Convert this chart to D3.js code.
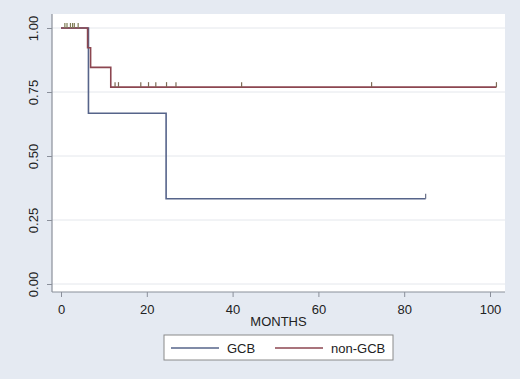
<!DOCTYPE html>
<html>
<head>
<meta charset="utf-8">
<script src="https://cdn.jsdelivr.net/npm/d3@7"></script>
<style>
  html, body { margin: 0; padding: 0; background: #e5eaf2; }
  svg { display: block; font-family: "Liberation Sans", Arial, sans-serif; }
</style>
</head>
<body>
<svg id="chart" width="520" height="379"></svg>
<script>
// ---- data ----
const seriesNames = ["GCB", "non-GCB"];
const gcbTimes = [0, 6.4, 24.5, 85];
const gcbSurv  = [1, 0.667, 0.333, 0.333];
const nonTimes = [0, 6.2, 6.9, 11.6, 101.5];
const nonSurv  = [1, 0.923, 0.846, 0.769, 0.769];
const gcbCensor = [85];
const nonCensor = [12.6, 13.4, 18.6, 20.4, 22.1, 24.6, 26.8, 42.1, 72.4, 101.5];
const topCensor = [0.9, 1.4, 2.2, 2.7, 3.1, 4.0];
const xTicks = [0, 20, 40, 60, 80, 100];
const yTicks = [0, 0.25, 0.5, 0.75, 1];
const xLabel = "MONTHS";

// ---- layout ----
const svg = d3.select("#chart");
const W = 520, H = 379;
const plot = { left: 52, right: 505, top: 14, bottom: 292 };
const colors = { "GCB": "#56648a", "non-GCB": "#8c4650" };

svg.append("rect").attr("width", W).attr("height", H).attr("fill", "#e5eaf2");
svg.append("rect")
  .attr("x", plot.left).attr("y", plot.top)
  .attr("width", plot.right - plot.left).attr("height", plot.bottom - plot.top)
  .attr("fill", "#ffffff");

const x = d3.scaleLinear().domain([0, 100]).range([61, 490]);
const y = d3.scaleLinear().domain([0, 1]).range([284, 28]);

// grid
svg.append("g").selectAll("line").data(yTicks).join("line")
  .attr("x1", plot.left).attr("x2", plot.right)
  .attr("y1", d => y(d)).attr("y2", d => y(d))
  .attr("stroke", "#e4e7ec").attr("stroke-width", 1);

// axes
const axisColor = "#8a8f9a";
const yAxis = svg.append("g").attr("transform", `translate(${plot.left},0)`)
  .call(d3.axisLeft(y).tickValues(yTicks).tickSize(5).tickFormat(d3.format(".2f")));
yAxis.select(".domain").remove();
yAxis.selectAll(".tick line").attr("stroke", axisColor);
yAxis.selectAll(".tick text")
  .attr("x", null).attr("dy", null)
  .attr("transform", "translate(-14,0) rotate(-90)")
  .attr("text-anchor", "middle")
  .attr("font-size", 13).attr("fill", "#222");

const xAxis = svg.append("g").attr("transform", `translate(0,${plot.bottom})`)
  .call(d3.axisBottom(x).tickValues(xTicks).tickSize(5));
xAxis.select(".domain").remove();
xAxis.selectAll(".tick line").attr("stroke", axisColor);
xAxis.selectAll(".tick text").attr("y", 13).attr("font-size", 13).attr("fill", "#222");

svg.append("line").attr("x1", plot.left).attr("x2", plot.left)
  .attr("y1", plot.top).attr("y2", plot.bottom)
  .attr("stroke", axisColor).attr("stroke-width", 1.2);
svg.append("line").attr("x1", plot.left).attr("x2", plot.right)
  .attr("y1", plot.bottom).attr("y2", plot.bottom)
  .attr("stroke", axisColor).attr("stroke-width", 1.2);

svg.append("text").attr("x", (plot.left + plot.right) / 2).attr("y", 326)
  .attr("text-anchor", "middle").attr("font-size", 13).attr("fill", "#222")
  .text(xLabel);

// curves
const line = d3.line().x(d => x(d[0])).y(d => y(d[1])).curve(d3.curveStepAfter);
const gcbData = d3.zip(gcbTimes, gcbSurv);
const nonData = d3.zip(nonTimes, nonSurv);

svg.append("path").datum(gcbData).attr("d", line)
  .attr("fill", "none").attr("stroke", colors["GCB"]).attr("stroke-width", 1.6);
svg.append("path").datum(nonData).attr("d", line)
  .attr("fill", "none").attr("stroke", colors["non-GCB"]).attr("stroke-width", 1.6);

// censor ticks
function ticks(times, level, color) {
  svg.append("g").selectAll("line").data(times).join("line")
    .attr("x1", d => x(d)).attr("x2", d => x(d))
    .attr("y1", y(level)).attr("y2", y(level) - 5)
    .attr("stroke", color).attr("stroke-width", 1.2);
}
ticks(nonCensor, nonSurv[nonSurv.length - 1], "#7d6a55");
ticks(gcbCensor, gcbSurv[gcbSurv.length - 1], "#6a7088");
ticks(topCensor, 1, "#7f7c55");

// legend
const lg = svg.append("g");
lg.append("rect").attr("x", 164).attr("y", 335).attr("width", 229).attr("height", 25)
  .attr("fill", "#ffffff").attr("stroke", "#8a8a8a").attr("stroke-width", 1);
const legendItems = [
  { name: seriesNames[0], x1: 171, x2: 219, tx: 227 },
  { name: seriesNames[1], x1: 275, x2: 323, tx: 331 }
];
legendItems.forEach(it => {
  lg.append("line").attr("x1", it.x1).attr("x2", it.x2).attr("y1", 348).attr("y2", 348)
    .attr("stroke", colors[it.name]).attr("stroke-width", 1.6);
  lg.append("text").attr("x", it.tx).attr("y", 353).attr("font-size", 13).attr("fill", "#222")
    .text(it.name);
});
</script>
</body>
</html>
